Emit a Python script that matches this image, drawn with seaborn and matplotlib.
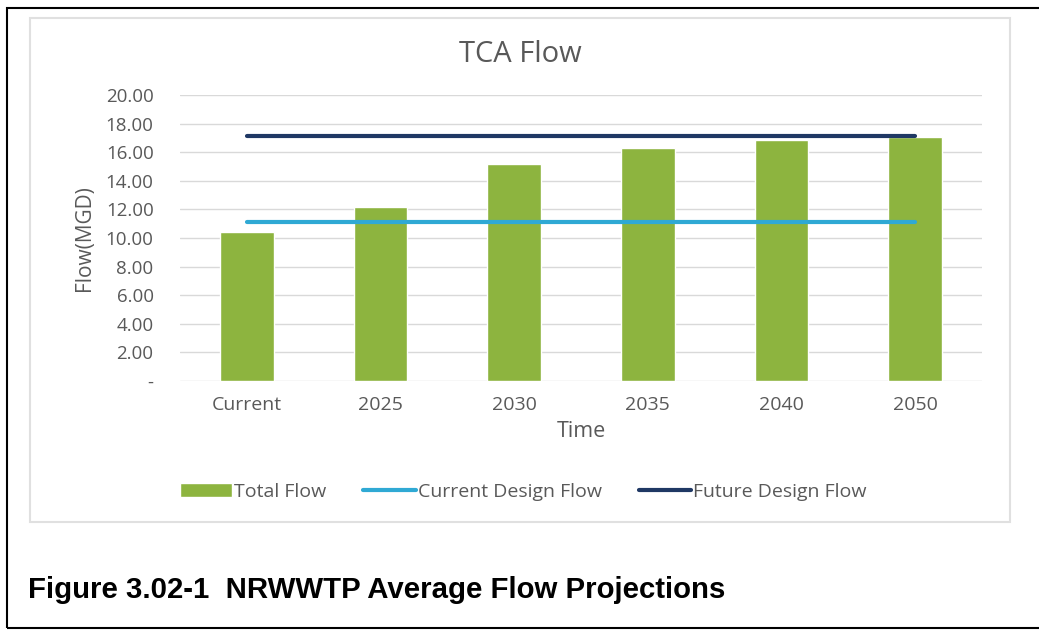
import numpy as np
import pandas as pd
import seaborn as sns
import matplotlib.pyplot as plt
from matplotlib.patches import Rectangle

# values
periods = ["Current", "2025", "2030", "2035", "2040", "2050"]
total_flow = [10.42, 12.17, 15.17, 16.3, 16.85, 17.06]
current_design = [11.1, 11.1, 11.1, 11.1, 11.1, 11.1]
future_design = [17.1, 17.1, 17.1, 17.1, 17.1, 17.1]
y_ticks = [0, 2, 4, 6, 8, 10, 12, 14, 16, 18, 20]
y_ticklabels = ["-"] + ["{:.2f}".format(v) for v in y_ticks[1:]]

df = pd.DataFrame({"period": periods, "total": total_flow,
                   "current": current_design, "future": future_design})

sns.set_style("white")
plt.rcParams["font.family"] = ["Open Sans", "DejaVu Sans"]
grey = "#595959"

W, H = 1039, 631
fig = plt.figure(figsize=(W / 100, H / 100), dpi=100)
ax = fig.add_axes([180 / W, 1 - 381 / H, (982 - 180) / W, (381 - 95) / H])

sns.barplot(data=df, x="period", y="total", color="#8db43f", width=0.4,
            saturation=1, ax=ax, label="Total Flow", zorder=2)
sns.pointplot(data=df, x="period", y="current", color="#2fa9d4", marker="",
              linewidth=3, ax=ax, label="Current Design Flow", zorder=3)
sns.pointplot(data=df, x="period", y="future", color="#1f3864", marker="",
              linewidth=3, ax=ax, label="Future Design Flow", zorder=3)
if ax.get_legend() is not None:
    ax.get_legend().remove()

ax.set_ylim(0, 20)
ax.set_yticks(y_ticks)
ax.set_yticklabels(y_ticklabels)
ax.grid(axis="y", color="#d9d9d9", linewidth=1, zorder=0)
ax.set_axisbelow(True)
for s in ax.spines.values():
    s.set_visible(False)
ax.tick_params(axis="x", length=0, labelsize=14, colors=grey, pad=11)
ax.tick_params(axis="y", length=0, labelsize=13.5, colors=grey, pad=19)
ax.set_xlabel("Time", fontsize=15.5, color=grey, labelpad=5)
ax.set_ylabel("Flow(MGD)", fontsize=15, color=grey, labelpad=8)

fig.text(520 / W, 1 - 54 / H, "TCA Flow", fontsize=21, color=grey,
         ha="center", va="center")

handles, labels = ax.get_legend_handles_labels()
order = [labels.index(l) for l in ["Total Flow", "Current Design Flow", "Future Design Flow"]]
fig.legend([handles[i] for i in order], [labels[i] for i in order],
           loc="center", bbox_to_anchor=(523 / W, 1 - 492 / H),
           ncol=3, frameon=False, fontsize=14, labelcolor=grey,
           handlelength=2.7, handletextpad=0.1, columnspacing=1.9)

# chart area frame and outer page frame
fig.patches.append(Rectangle((30 / W, 1 - 522 / H), (1010 - 30) / W, (522 - 18) / H,
                             transform=fig.transFigure, fill=False,
                             edgecolor="#e0e0e0", linewidth=1.5))
fig.patches.append(Rectangle((7 / W, 1 - 628 / H), (1045 - 7) / W, (628 - 8) / H,
                             transform=fig.transFigure, fill=False,
                             edgecolor="black", linewidth=1.5))

fig.text(28 / W, 1 - 590 / H, "Figure 3.02-1  NRWWTP Average Flow Projections",
         fontsize=21.2, fontweight="bold", family="Liberation Sans",
         ha="left", va="center", color="black")

fig.savefig("out.png", dpi=100)
